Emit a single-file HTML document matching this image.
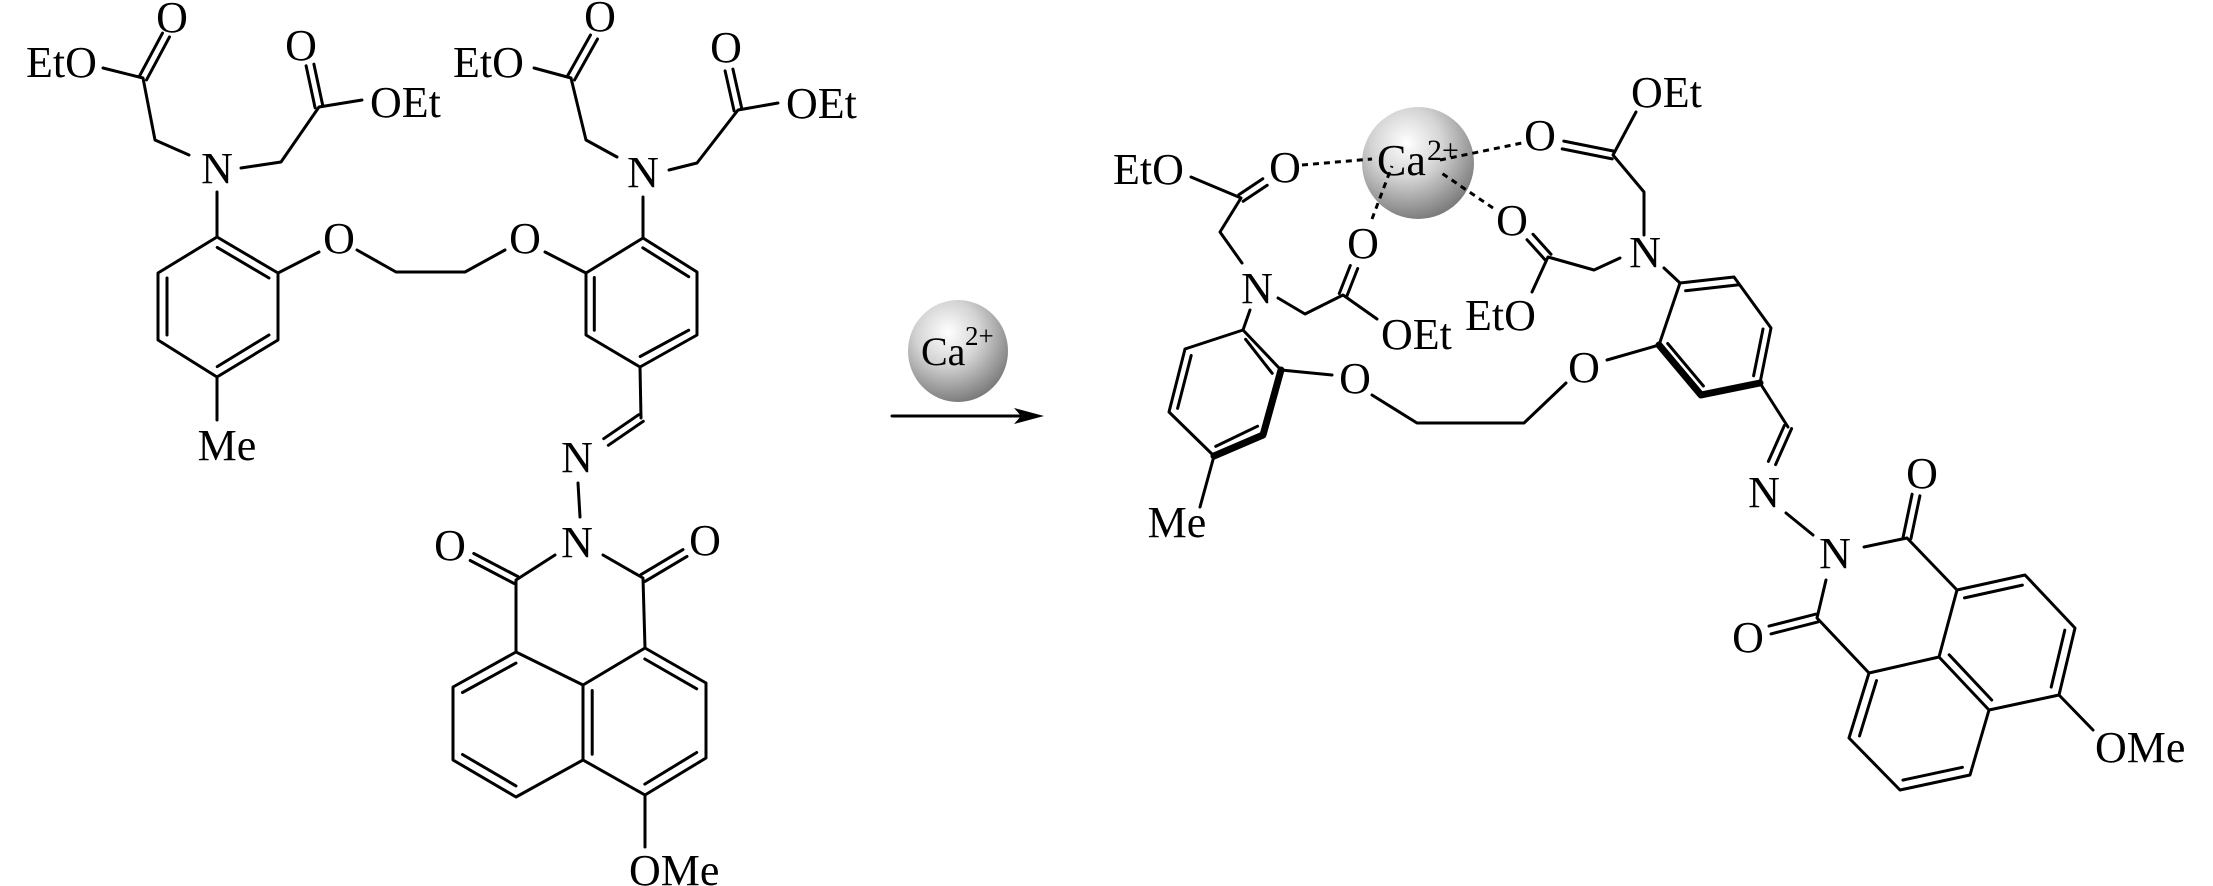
<!DOCTYPE html>
<html><head><meta charset="utf-8"><style>
html,body{margin:0;padding:0;background:#fff;}
svg{display:block;}
text{font-family:"Liberation Serif",serif;font-size:44px;fill:#000;}
</style></head><body>
<svg width="2213" height="886" viewBox="0 0 2213 886" xmlns="http://www.w3.org/2000/svg">
<defs>
<radialGradient id="g" cx="0.4" cy="0.32" r="0.7">
<stop offset="0" stop-color="#ffffff"/>
<stop offset="0.45" stop-color="#d4d4d4"/>
<stop offset="1" stop-color="#7a7a7a"/>
</radialGradient>
</defs>
<g stroke="#000" stroke-width="3" fill="none" stroke-linecap="round" stroke-linejoin="round">
<!-- LEFT MOLECULE -->
<polyline points="103,68 143,78 155,140 189,155"/>
<line x1="146.5" y1="79.9" x2="169.5" y2="36.9"/><line x1="139.5" y1="76.1" x2="162.5" y2="33.1"/>
<polyline points="241,168 281,162 319,107 362,100"/>
<line x1="322.9" y1="106.2" x2="313.9" y2="64.2"/><line x1="315.1" y1="107.8" x2="306.1" y2="65.8"/>
<line x1="217" y1="192" x2="217" y2="237"/>
<polygon points="217,237 278,273 278,340 217,377 158,340 158,273"/>
<line x1="217.2" y1="247.4" x2="269" y2="278"/><line x1="269" y1="335" x2="217.2" y2="366.6"/><line x1="167" y1="335" x2="167" y2="278"/>
<line x1="217" y1="377" x2="217" y2="420"/>
<line x1="278" y1="273" x2="319" y2="252"/>
<polyline points="357,250 396,272 465,272 505,250"/>
<line x1="545" y1="252" x2="586" y2="273"/>
<polygon points="643,238 697,272 697,335 640,367 586,335 586,273"/>
<line x1="642.8" y1="247.8" x2="688.7" y2="276.7"/><line x1="688.7" y1="330.2" x2="640.2" y2="356.5"/><line x1="594.3" y1="330.2" x2="594.3" y2="277.5"/>
<line x1="643" y1="238" x2="643" y2="197"/>
<polyline points="617,157 586,140 571,78 534,68"/>
<line x1="574.5" y1="80" x2="597.5" y2="39"/><line x1="567.5" y1="76" x2="590.5" y2="35"/>
<polyline points="669,170 697,163 738,110 778,103"/>
<line x1="741.9" y1="109.1" x2="732.9" y2="69.1"/><line x1="734.1" y1="110.9" x2="725.1" y2="70.9"/>
<line x1="640" y1="367" x2="641" y2="418"/>
<line x1="643.3" y1="421.3" x2="608.3" y2="445.3"/><line x1="638.7" y1="414.7" x2="603.7" y2="438.7"/>
<line x1="578" y1="483" x2="580" y2="517"/>
<polyline points="555,555 516,580 516,652"/>
<polyline points="603,555 643,578 645,648"/>
<line x1="517.8" y1="576.5" x2="473.8" y2="553.5"/><line x1="514.2" y1="583.5" x2="470.2" y2="560.5"/>
<line x1="645" y1="581.4" x2="687" y2="556.4"/><line x1="641" y1="574.6" x2="683" y2="549.6"/>
<polyline points="516,652 583,685 645,648 706,683 706,758 645,795 583,760 516,797 453,760 453,687 516,652"/>
<line x1="583" y1="685" x2="583" y2="760"/>
<line x1="644.8" y1="659" x2="696.7" y2="688.8"/><line x1="696.7" y1="752.5" x2="644.8" y2="784.1"/>
<line x1="592.2" y1="690.5" x2="592.2" y2="754.2"/>
<line x1="516" y1="785.9" x2="462.5" y2="754.5"/><line x1="462.5" y1="692.5" x2="516" y2="663.1"/>
<line x1="645" y1="795" x2="645" y2="847"/>
<!-- ARROW -->
<line x1="892" y1="416" x2="1022" y2="416"/>
<!-- PRODUCT -->
<polyline points="1191,177 1241,198 1220,232 1242,263"/>
<line x1="1243.2" y1="201.3" x2="1267.2" y2="185.3"/><line x1="1238.8" y1="194.7" x2="1262.8" y2="178.7"/>
<polyline points="1278,298 1305,314 1343,295 1377,319"/>
<line x1="1346.7" y1="296.5" x2="1357.7" y2="268.5"/><line x1="1339.3" y1="293.5" x2="1350.3" y2="265.5"/>
<line x1="1250" y1="310" x2="1243" y2="330"/>
<polyline points="1281,370 1243,330 1185,349 1169,412 1214,456"/>
<line x1="1245.6" y1="339.3" x2="1272.2" y2="373.3"/><line x1="1257.6" y1="426.2" x2="1215.7" y2="446.4"/><line x1="1177.6" y1="408.4" x2="1191.2" y2="355.5"/>
<line x1="1214" y1="456" x2="1200" y2="507"/>
<line x1="1281" y1="370" x2="1332" y2="375"/>
<polyline points="1372,395 1417,423 1524,423 1566,383"/>
<polyline points="1607,360 1659,345 1680,283 1734,277 1771,328 1760,383"/>
<line x1="1685.6" y1="290.8" x2="1739.1" y2="284.7"/><line x1="1753.6" y1="375.8" x2="1763" y2="329"/><line x1="1667.7" y1="343.5" x2="1703.4" y2="386"/>
<line x1="1664" y1="268" x2="1680" y2="283"/>
<polyline points="1644,235 1644,192 1613,155 1636,112"/>
<line x1="1613.8" y1="151.1" x2="1563.8" y2="141.1"/><line x1="1612.2" y1="158.9" x2="1562.2" y2="148.9"/>
<polyline points="1620,258 1594,270 1548,257 1532,292"/>
<line x1="1551" y1="254.3" x2="1533" y2="234.3"/><line x1="1545" y1="259.7" x2="1527" y2="239.7"/>
<line x1="1760" y1="383" x2="1788" y2="427"/>
<line x1="1791.6" y1="428.6" x2="1775.6" y2="464.6"/><line x1="1784.4" y1="425.4" x2="1768.4" y2="461.4"/>
<line x1="1786" y1="513" x2="1813" y2="535"/>
<polyline points="1864,547 1907,538 1957,590"/>
<line x1="1910.9" y1="538.8" x2="1919.9" y2="495.8"/><line x1="1903.1" y1="537.2" x2="1912.1" y2="494.2"/>
<polyline points="1826,580 1817,618 1869,673"/>
<line x1="1816" y1="614.1" x2="1769" y2="626.1"/><line x1="1818" y1="621.9" x2="1771" y2="633.9"/>
<polyline points="1939,657 1957,590 2025,575 2075,628 2059,695 1989,710 1939,657 1869,673 1849,738 1900,790 1970,775 1989,710"/>
<line x1="1964.5" y1="597.9" x2="2022.4" y2="585.1"/><line x1="2064.8" y1="630.2" x2="2051.2" y2="687.1"/><line x1="1991.7" y1="700" x2="1949.2" y2="654.8"/>
<line x1="1876.5" y1="680.6" x2="1859.5" y2="735.9"/><line x1="1902.9" y1="780.1" x2="1962.4" y2="767.3"/>
<line x1="2059" y1="695" x2="2093" y2="730"/>
</g>
<!-- bold bonds -->
<g stroke="#000" stroke-width="7" fill="none" stroke-linecap="round" stroke-linejoin="round">
<polyline points="1281,370 1263,435 1214,456"/>
<polyline points="1659,345 1701,395 1760,383"/>
</g>
<polygon points="1044,416 1014,408 1021,416 1014,424" fill="#000"/>
<!-- Ca balls -->
<ellipse cx="958" cy="351" rx="50" ry="51" fill="url(#g)"/>
<ellipse cx="1418" cy="163" rx="56" ry="56" fill="url(#g)"/>
<!-- dashed coordination -->
<g stroke="#000" stroke-width="3" stroke-dasharray="6,5" fill="none">
<line x1="1302" y1="165" x2="1372" y2="159"/>
<line x1="1372" y1="219" x2="1392" y2="166"/>
<line x1="1440" y1="160" x2="1522" y2="143"/>
<line x1="1493" y1="208" x2="1440" y2="172"/>
</g>
<!-- labels -->
<text x="26" y="77">EtO</text>
<text x="172" y="32" text-anchor="middle">O</text>
<text x="217" y="183" text-anchor="middle">N</text>
<text x="370" y="117">OEt</text>
<text x="301" y="60" text-anchor="middle">O</text>
<text x="227" y="460" text-anchor="middle">Me</text>
<text x="339" y="253" text-anchor="middle">O</text>
<text x="525" y="253" text-anchor="middle">O</text>
<text x="643" y="187" text-anchor="middle">N</text>
<text x="453" y="77">EtO</text>
<text x="600" y="31" text-anchor="middle">O</text>
<text x="786" y="118">OEt</text>
<text x="726" y="62" text-anchor="middle">O</text>
<text x="577" y="472" text-anchor="middle">N</text>
<text x="577" y="557" text-anchor="middle">N</text>
<text x="450" y="560" text-anchor="middle">O</text>
<text x="705" y="555" text-anchor="middle">O</text>
<text x="629" y="885">OMe</text>
<text x="921" y="365" style="font-size:40px">Ca</text>
<text x="965" y="345" style="font-size:27px">2+</text>
<text x="1113" y="184">EtO</text>
<text x="1285" y="182" text-anchor="middle">O</text>
<text x="1377" y="175">Ca</text>
<text x="1427" y="160" style="font-size:30px">2+</text>
<text x="1257" y="303" text-anchor="middle">N</text>
<text x="1363" y="258" text-anchor="middle">O</text>
<text x="1381" y="349">OEt</text>
<text x="1177" y="537" text-anchor="middle">Me</text>
<text x="1355" y="393" text-anchor="middle">O</text>
<text x="1584" y="382" text-anchor="middle">O</text>
<text x="1645" y="267" text-anchor="middle">N</text>
<text x="1540" y="150" text-anchor="middle">O</text>
<text x="1631" y="107">OEt</text>
<text x="1512" y="235" text-anchor="middle">O</text>
<text x="1465" y="330">EtO</text>
<text x="1764" y="507" text-anchor="middle">N</text>
<text x="1835" y="568" text-anchor="middle">N</text>
<text x="1922" y="488" text-anchor="middle">O</text>
<text x="1748" y="652" text-anchor="middle">O</text>
<text x="2095" y="762">OMe</text>
</svg>
</body></html>
